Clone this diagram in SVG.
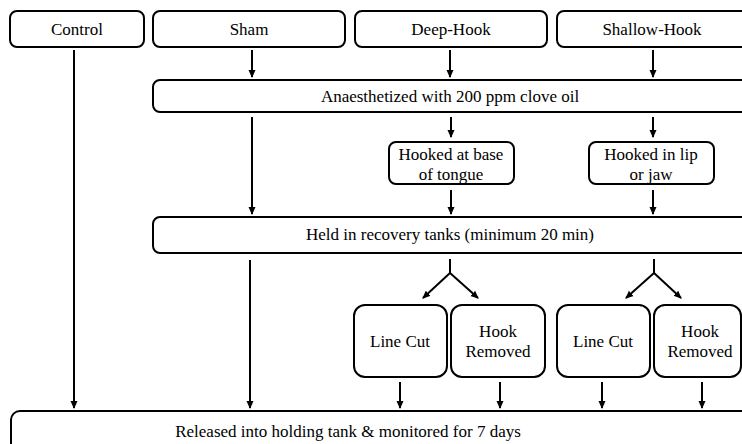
<svg xmlns="http://www.w3.org/2000/svg" width="742" height="444" viewBox="0 0 742 444">
<defs>
<marker id="ah" viewBox="0 0 8 8" refX="7" refY="4" markerWidth="8" markerHeight="8" markerUnits="userSpaceOnUse" orient="auto">
<path d="M0,0.5 L8,4 L0,7.5 z" fill="#000"/>
</marker>
<style>
.b{fill:#fff;stroke:#000;stroke-width:2}
.c{stroke:#000;stroke-width:2;fill:none;marker-end:url(#ah)}
</style>
</defs>
<rect width="742" height="444" fill="#fff"/>
<g font-family="Liberation Serif, Times New Roman, DejaVu Serif, serif" font-size="17" fill="#000" text-anchor="middle">
<g id="control"><rect class="b" x="10" y="11" width="134" height="36" rx="7"/><text x="77" y="35">Control</text></g>
<g id="sham"><rect class="b" x="153" y="11" width="192" height="36" rx="7"/><text x="249" y="35">Sham</text></g>
<g id="deephook"><rect class="b" x="355" y="11" width="192" height="36" rx="7"/><text x="451" y="35">Deep-Hook</text></g>
<g id="shallowhook"><rect class="b" x="557" y="11" width="200" height="36" rx="7"/><text x="652" y="35">Shallow-Hook</text></g>
<g id="anaesthetized"><rect class="b" x="153" y="80" width="610" height="32" rx="7"/><text x="450" y="102">Anaesthetized with 200 ppm clove oil</text></g>
<g id="hookedbase"><rect class="b" x="389" y="142" width="125" height="42" rx="7"/><text x="451" y="160">Hooked at base</text><text x="451" y="180">of tongue</text></g>
<g id="hookedlip"><rect class="b" x="589" y="142" width="125" height="42" rx="7"/><text x="651" y="160">Hooked in lip</text><text x="651" y="180">or jaw</text></g>
<g id="held"><rect class="b" x="153" y="217" width="610" height="36" rx="7"/><text x="450" y="240">Held in recovery tanks (minimum  20 min)</text></g>
<g id="linecut1"><rect class="b" x="354" y="305" width="93" height="72" rx="11"/><text x="400" y="347">Line Cut</text></g>
<g id="hookremoved1"><rect class="b" x="451" y="305" width="94" height="72" rx="11"/><text x="498" y="337">Hook</text><text x="498" y="357">Removed</text></g>
<g id="linecut2"><rect class="b" x="557" y="305" width="93" height="72" rx="11"/><text x="603" y="347">Line Cut</text></g>
<g id="hookremoved2"><rect class="b" x="654" y="305" width="87" height="72" rx="11"/><text x="700" y="337">Hook</text><text x="700" y="357">Removed</text></g>
<g id="released"><rect class="b" x="11" y="411" width="760" height="50" rx="9"/><text x="348" y="437">Released into holding tank &amp; monitored for 7 days</text></g>
</g>
<g id="connectors">
<path class="c" d="M74,50 V408"/>
<path class="c" d="M252,50 V77"/>
<path class="c" d="M450,50 V77"/>
<path class="c" d="M653,50 V77"/>
<path class="c" d="M451,117 V137"/>
<path class="c" d="M653,117 V137"/>
<path class="c" d="M451,190 V214"/>
<path class="c" d="M653,190 V214"/>
<path class="c" d="M252,117 V214"/>
<path class="c" d="M250,260 V408"/>
<path stroke="#000" stroke-width="2" fill="none" d="M450,259 V273"/>
<path class="c" d="M450,273 L423,298"/>
<path class="c" d="M450,273 L478,298"/>
<path stroke="#000" stroke-width="2" fill="none" d="M654,259 V273"/>
<path class="c" d="M654,273 L626,298"/>
<path class="c" d="M654,273 L681,298"/>
<path class="c" d="M400,382 V408"/>
<path class="c" d="M500,382 V408"/>
<path class="c" d="M602,382 V408"/>
<path class="c" d="M702,382 V408"/>
</g>
</svg>
